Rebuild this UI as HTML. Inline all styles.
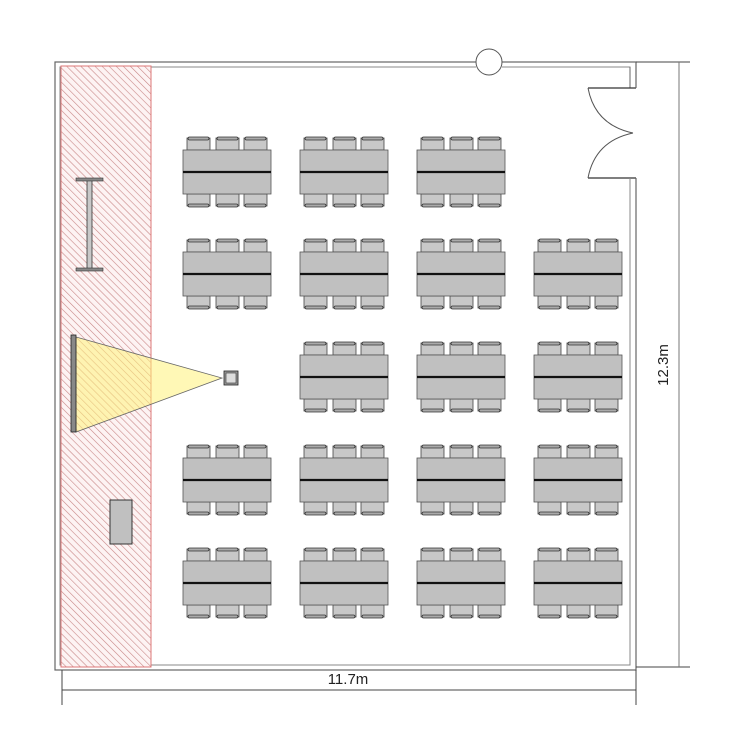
<!DOCTYPE html>
<html><head><meta charset="utf-8"><style>html,body{margin:0;padding:0;background:#fff}svg{display:block}</style></head>
<body>
<svg width="750" height="750" viewBox="0 0 750 750" xmlns="http://www.w3.org/2000/svg">
<defs>
<pattern id="hatch" width="5" height="5" patternUnits="userSpaceOnUse" patternTransform="rotate(-45)">
<rect width="5" height="5" fill="#fdf3f3"/>
<line x1="0" y1="0" x2="0" y2="5" stroke="#c98888" stroke-width="1.2"/>
</pattern>
<g id="chT">
<rect x="0" y="-12" width="23" height="12" fill="#c8c8c8" stroke="#444" stroke-width="0.8"/>
<rect x="1" y="-13" width="21" height="3" rx="1.5" fill="#aaa" stroke="#333" stroke-width="0.8"/>
</g>
<g id="chB">
<rect x="0" y="0" width="23" height="12" fill="#c8c8c8" stroke="#444" stroke-width="0.8"/>
<rect x="1" y="10" width="21" height="3" rx="1.5" fill="#aaa" stroke="#333" stroke-width="0.8"/>
</g>
<g id="tbl">
<use href="#chT" x="4" y="0"/><use href="#chT" x="33" y="0"/><use href="#chT" x="61" y="0"/>
<use href="#chB" x="4" y="44"/><use href="#chB" x="33" y="44"/><use href="#chB" x="61" y="44"/>
<rect x="0" y="0" width="88" height="44" fill="#c0c0c0" stroke="#555" stroke-width="0.8"/>
<line x1="0" y1="22" x2="88" y2="22" stroke="#111" stroke-width="2.2"/>
</g>
</defs>

<rect x="55" y="62" width="581" height="608" fill="#fff" stroke="#666" stroke-width="1.2"/>
<rect x="60" y="67" width="570" height="598" fill="#fff" stroke="#888" stroke-width="1"/>

<rect x="61" y="66" width="90" height="601" fill="url(#hatch)" stroke="#d77" stroke-width="1"/>

<rect x="476" y="58" width="26" height="12" fill="#fff"/>
<circle cx="489" cy="62" r="13" fill="#fff" stroke="#555" stroke-width="1"/>

<rect x="628" y="88" width="10" height="90" fill="#fff"/>
<line x1="630" y1="67" x2="630" y2="88" stroke="#666"/>
<line x1="588" y1="88" x2="636" y2="88" stroke="#333" stroke-width="1.2"/>
<line x1="588" y1="178" x2="636" y2="178" stroke="#333" stroke-width="1.2"/>
<line x1="630" y1="178" x2="630" y2="665" stroke="#888"/>
<line x1="636" y1="62" x2="636" y2="88" stroke="#666"/>
<line x1="636" y1="178" x2="636" y2="670" stroke="#666"/>
<path d="M588 88 Q595 125 633 133" fill="none" stroke="#555"/>
<path d="M588 178 Q595 141 633 133" fill="none" stroke="#555"/>

<line x1="636" y1="62" x2="690" y2="62" stroke="#444"/>
<line x1="636" y1="667" x2="690" y2="667" stroke="#444"/>
<line x1="679" y1="62" x2="679" y2="667" stroke="#777"/>
<text transform="translate(668,365) rotate(-90)" text-anchor="middle" font-family="Liberation Sans, sans-serif" font-size="15" fill="#222">12.3m</text>
<line x1="62" y1="670" x2="62" y2="705" stroke="#444"/>
<line x1="636" y1="670" x2="636" y2="705" stroke="#444"/>
<line x1="62" y1="690" x2="636" y2="690" stroke="#444"/>
<text x="348" y="684" text-anchor="middle" font-family="Liberation Sans, sans-serif" font-size="15" fill="#222">11.7m</text>

<rect x="87" y="180" width="5" height="90" fill="#c8c8c8" stroke="#333" stroke-width="0.8"/>
<rect x="76" y="178" width="27" height="3" fill="#888" stroke="#333" stroke-width="0.6"/>
<rect x="76" y="268" width="27" height="3" fill="#888" stroke="#333" stroke-width="0.6"/>

<polygon points="76,337 76,432 222,378" fill="#fff27a" fill-opacity="0.55" stroke="#666" stroke-width="0.8"/>
<rect x="71" y="335" width="5" height="97" fill="#888" stroke="#222" stroke-width="0.8"/>
<rect x="224" y="371" width="14" height="14" fill="#999" stroke="#222" stroke-width="0.8"/>
<rect x="226" y="373" width="10" height="10" fill="#ddd" stroke="#333" stroke-width="0.6"/>

<rect x="110" y="500" width="22" height="44" fill="#c0c0c0" stroke="#333" stroke-width="1"/>

<use href="#tbl" x="183" y="150"/><use href="#tbl" x="300" y="150"/><use href="#tbl" x="417" y="150"/>
<use href="#tbl" x="183" y="252"/><use href="#tbl" x="300" y="252"/><use href="#tbl" x="417" y="252"/><use href="#tbl" x="534" y="252"/>
<use href="#tbl" x="300" y="355"/><use href="#tbl" x="417" y="355"/><use href="#tbl" x="534" y="355"/>
<use href="#tbl" x="183" y="458"/><use href="#tbl" x="300" y="458"/><use href="#tbl" x="417" y="458"/><use href="#tbl" x="534" y="458"/>
<use href="#tbl" x="183" y="561"/><use href="#tbl" x="300" y="561"/><use href="#tbl" x="417" y="561"/><use href="#tbl" x="534" y="561"/>
</svg>
</body></html>
